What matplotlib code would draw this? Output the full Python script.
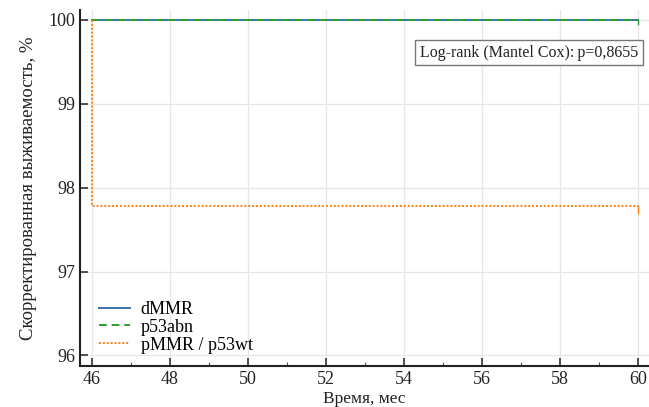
import matplotlib.pyplot as plt
from matplotlib.ticker import MultipleLocator

# survival curves (months, %)
t_dmmr = [46, 60]
s_dmmr = [100, 100]
t_p53abn = [46, 60]
s_p53abn = [100, 100]
t_pmmr = [46, 46, 60]
s_pmmr = [100, 97.78, 97.78]

labels = ["dMMR", "p53abn", "pMMR / p53wt"]
colors = ["#3a72b0", "#2ca02c", "#ff7f0e"]
pvalue_text = "Log-rank (Mantel Cox):\u2009p=0,8655"

plt.rcParams['font.family'] = ['Liberation Serif', 'DejaVu Serif']

fig = plt.figure(figsize=(6.49, 4.07), dpi=100)
ax = fig.add_axes([0.123, 0.100, 0.877, 0.876])

ax.plot(t_dmmr, s_dmmr, color=colors[0], lw=1.4, ls='-', label=labels[0])
ax.plot(t_p53abn, s_p53abn, color=colors[1], lw=1.4, ls=(0, (4, 2.5)), label=labels[1])
ax.plot(t_pmmr, s_pmmr, color=colors[2], lw=1.4, ls=(0, (1, 1)), label=labels[2])

# censor marks at the end of follow-up
ax.plot([t_p53abn[-1], t_p53abn[-1]], [s_p53abn[-1], s_p53abn[-1] - 0.05], color=colors[1], lw=1)
ax.plot([t_pmmr[-1], t_pmmr[-1]], [s_pmmr[-1], s_pmmr[-1] - 0.08], color=colors[2], lw=1)

ax.set_xlim(45.69, 60.28)
ax.set_ylim(95.87, 100.12)
ax.xaxis.set_major_locator(MultipleLocator(2))
ax.xaxis.set_minor_locator(MultipleLocator(1))
ax.yaxis.set_major_locator(MultipleLocator(1))

ax.grid(True, which='major', color='#e6e6e6', lw=0.9)
ax.set_axisbelow(True)
ax.tick_params(axis='both', which='major', direction='in', length=6, width=1.2,
               labelsize=13, colors='#333333', labelcolor='#222222')
ax.tick_params(axis='x', which='minor', direction='in', length=3, width=0.8, colors='#555555')
ax.tick_params(axis='y', which='minor', left=False)

for side in ['top', 'right']:
    ax.spines[side].set_visible(False)
for side in ['left', 'bottom']:
    ax.spines[side].set_linewidth(1.5)
    ax.spines[side].set_color('#222222')

ax.set_ylabel("Скорректированная выживаемость, %", fontsize=13.5, color='#222222', labelpad=8)
ax.set_xlabel("Время, мес", fontsize=12.5, color='#222222', labelpad=2)

ax.text(57.2, 99.61, pvalue_text, fontsize=11.5, ha='center', va='center', color='#222222',
        bbox=dict(boxstyle='square,pad=0.3', fc='white', ec='#777777', lw=1))

ax.legend(loc='lower left', bbox_to_anchor=(0.015, 0.005), frameon=False, fontsize=13,
          handlelength=1.7, handletextpad=0.6, labelspacing=0.05, borderaxespad=0.2)

fig.savefig("out.png", dpi=100)
